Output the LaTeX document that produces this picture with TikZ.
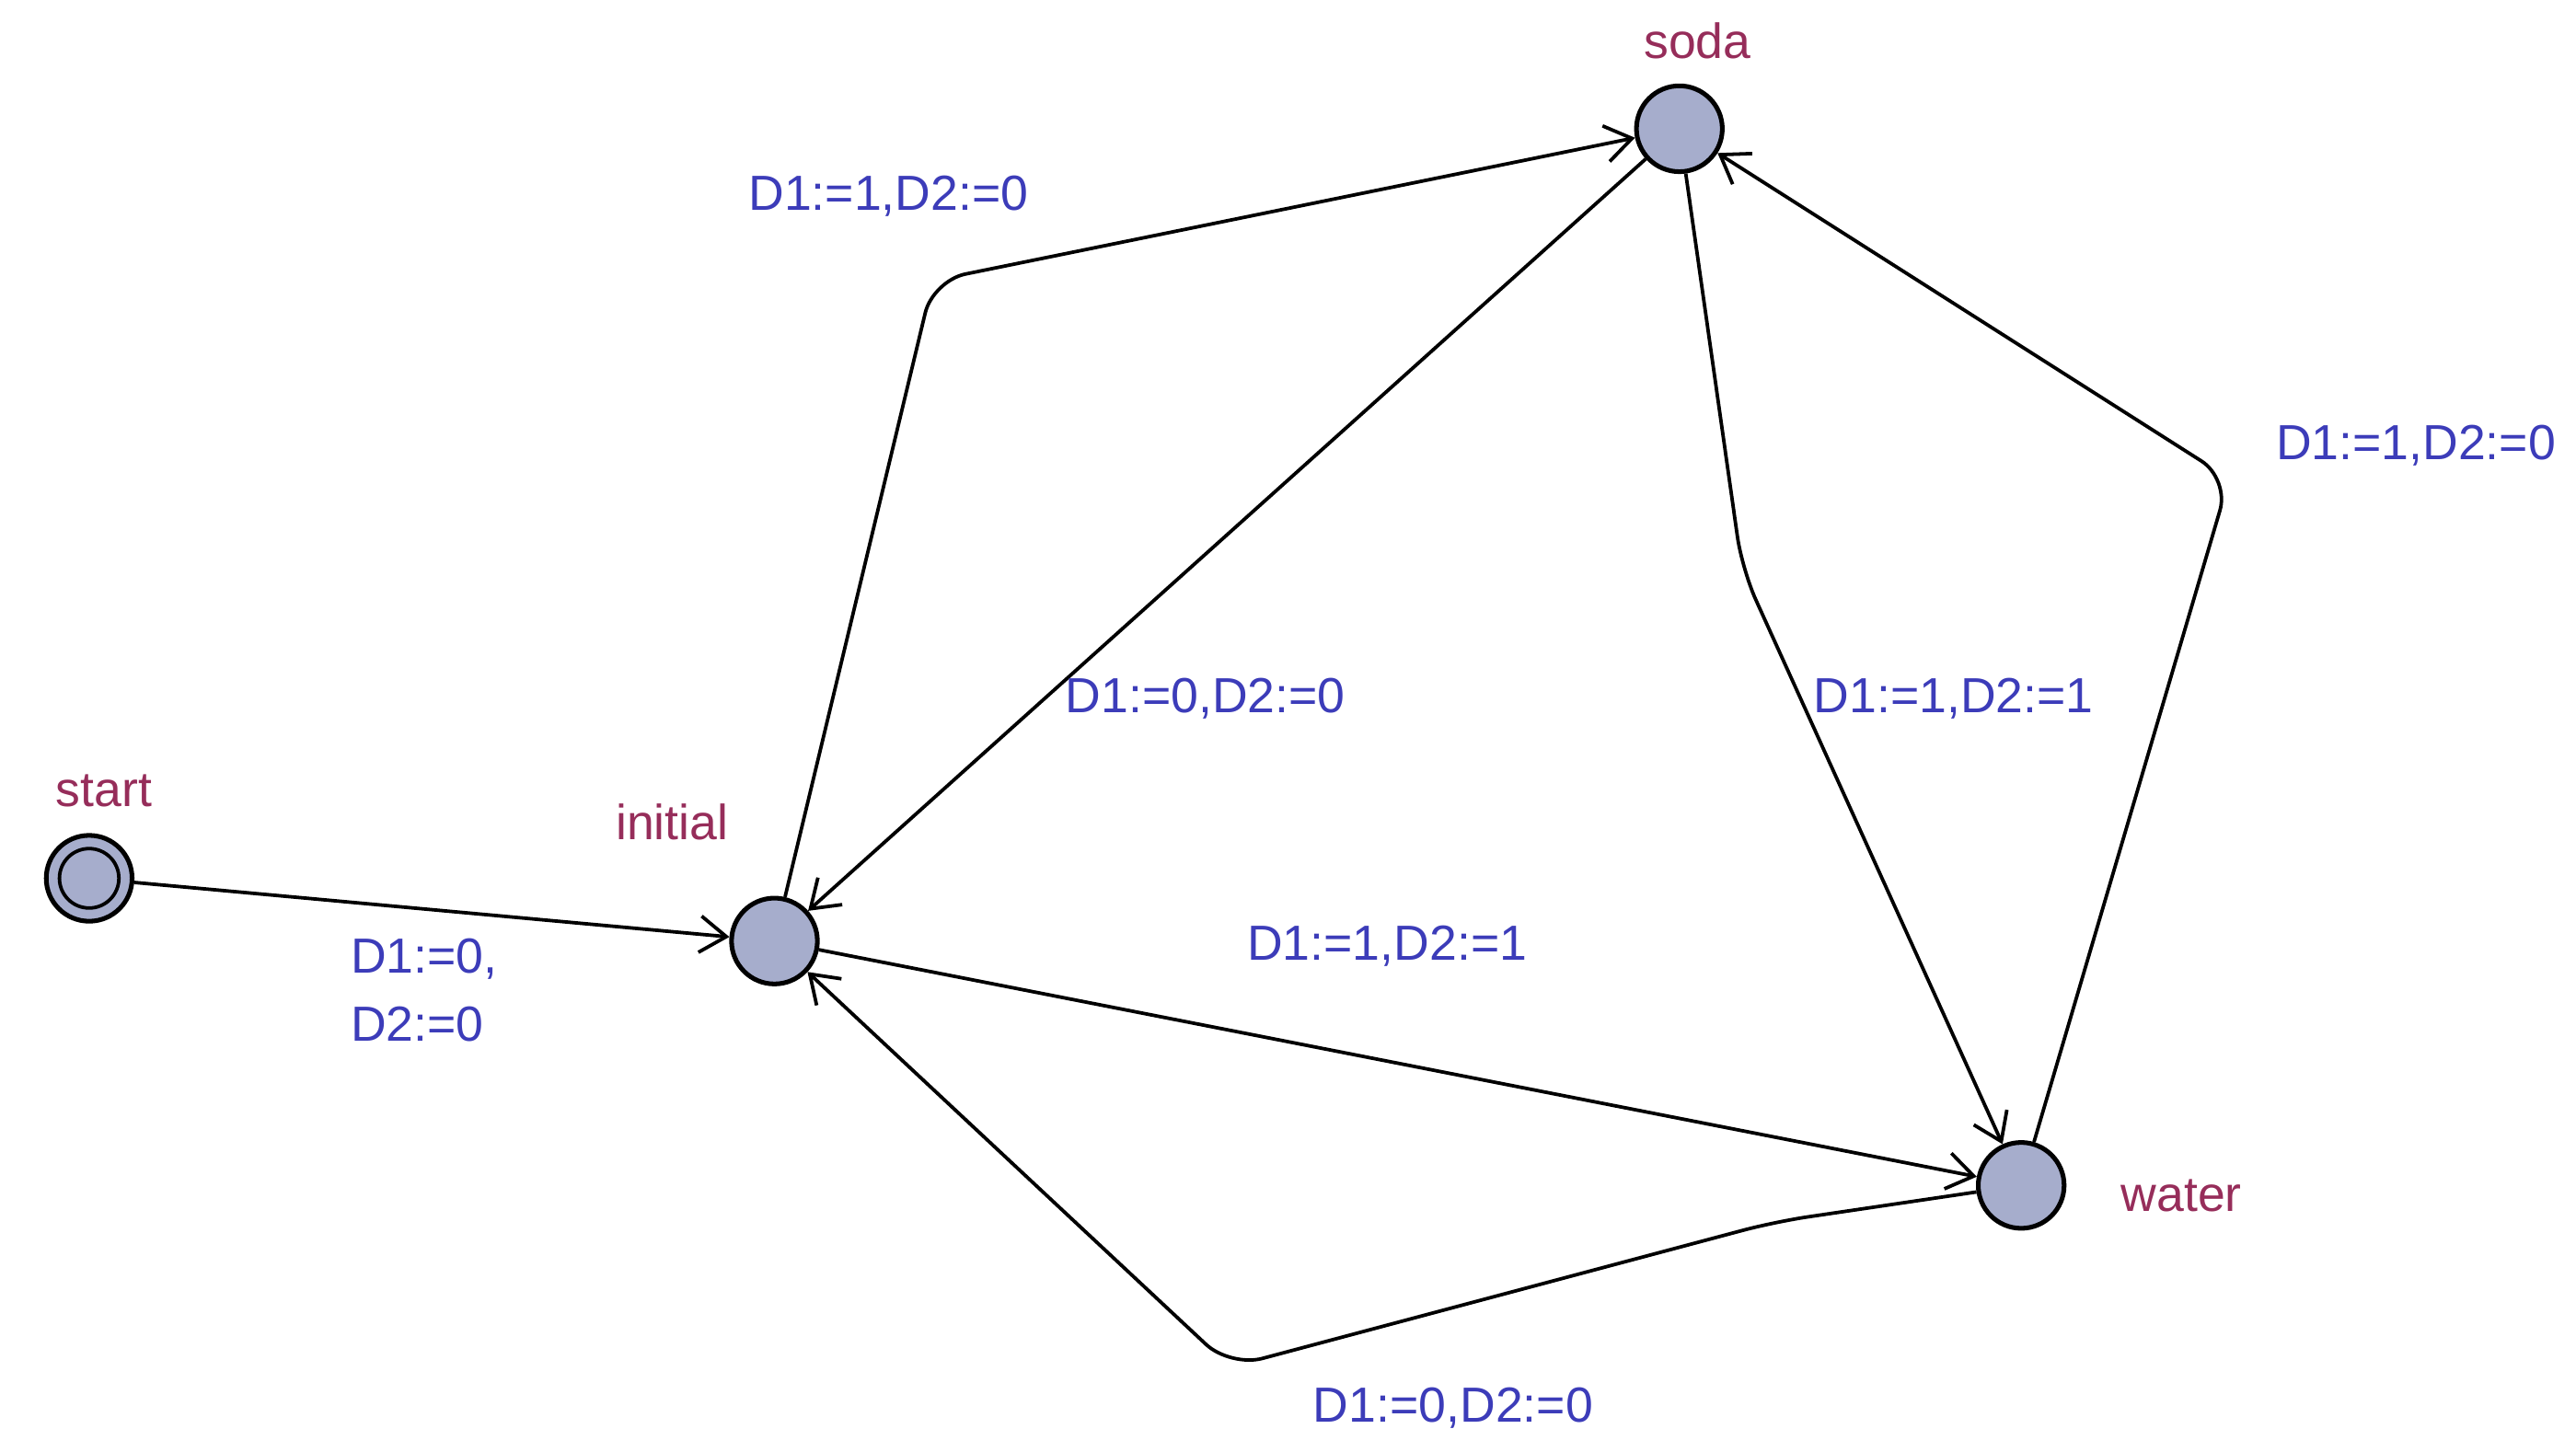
\documentclass[tikz,border=0pt]{standalone}
\usepackage{fontspec}
\setmainfont{Liberation Sans}
\usetikzlibrary{arrows.meta}
\definecolor{locfill}{RGB}{166,173,204}
\definecolor{locname}{RGB}{150,45,90}
\definecolor{updcol}{RGB}{60,60,185}
\begin{document}
\begin{tikzpicture}[x=1mm,y=-1mm,
    location/.style={circle, draw, thick, fill=locfill, minimum size=5.2mm, inner sep=0pt},
    loc name/.style={font=\fontsize{8.5}{10}\selectfont, text=locname},
    update/.style={font=\fontsize{8.5}{10}\selectfont, text=updcol, align=left},
    edge/.style={-{Straight Barb[length=1.6mm,width=2.2mm]}, semithick, rounded corners=2mm}
]
\useasboundingbox (0,0) rectangle (156,87.9);

% Locations
\node[location] (start) at (5.4,53.2) {};
\node[circle, draw, semithick, minimum size=3.6mm, inner sep=0pt] (startin) at (start) {};
\node[location] (initial) at (46.9,57) {};
\node[location] (soda) at (101.7,7.8) {};
\node[location] (water) at (122.4,71.8) {};

% Location names
\node[loc name] (startlbl) at (6.3,47.9) {start};
\node[loc name] (initiallbl) at (40.7,49.8) {initial};
\node[loc name] (sodalbl) at (102.8,2.5) {soda};
\node[loc name] (waterlbl) at (132.1,72.4) {water};

% Transitions
\draw[edge] (start) -- (initial);
\draw[edge] (initial) -- (56.5,17) -- (soda);
\draw[edge] (soda) -- (initial);
\draw[edge] (soda) -- (105.5,34.5) -- (water);
\draw[edge] (water) -- (135,29) -- (soda);
\draw[edge] (initial) -- (water);
\draw[edge] (water) -- (107.5,74) -- (74.5,82.8) -- (initial);

% Updates
\node[update, anchor=north west] (u1) at (20,55.6) {D1:=0,\\[0.4ex]D2:=0};
\node[update] (u2) at (53.8,11.9) {D1:=1,D2:=0};
\node[update] (u3) at (73,42.3) {D1:=0,D2:=0};
\node[update] (u4) at (118.3,42.3) {D1:=1,D2:=1};
\node[update] (u5) at (146.3,27) {D1:=1,D2:=0};
\node[update] (u6) at (84,57.3) {D1:=1,D2:=1};
\node[update] (u7) at (88,85.3) {D1:=0,D2:=0};
\end{tikzpicture}
\end{document}
